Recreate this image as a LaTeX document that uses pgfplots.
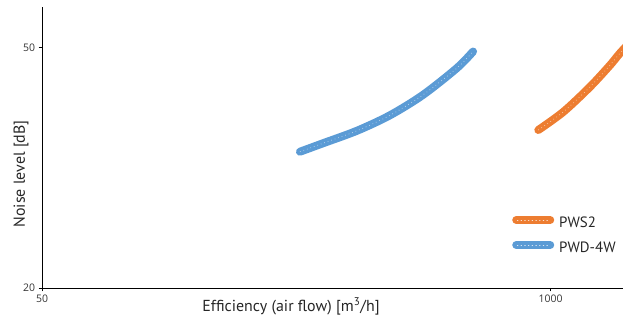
\documentclass[border=0pt]{standalone}
\usepackage{pgfplots}
\pgfplotsset{compat=1.18}
\usepackage{fontspec}
\setmainfont{PT Sans}
\newfontfamily\tickfont{Open Sans}
\definecolor{cblue}{HTML}{5B9BD5}
\definecolor{corange}{HTML}{ED7D31}
\begin{document}
\begin{tikzpicture}
\begin{axis}[
  name=ax,
  scale only axis,
  width=581bp, height=281bp,
  xmode=log, ymode=log,
  xmin=50, xmax=1531, ymin=20, ymax=58.3,
  axis lines=left,
  axis line style={-, line width=0.8pt, black},
  xtick={50,1000}, xticklabels={50,1000},
  ytick={20,50}, yticklabels={20,50},
  minor tick num=0,
  tick style={black, line width=0.5pt},
  major tick length=3.5bp,
  tick align=outside,
  every tick label/.append style={font=\tickfont\fontsize{10.5}{12}\selectfont, text=black!80},
  xlabel={Efficiency (air flow) [m\textsuperscript{3}/h]},
  ylabel={Noise level [dB]},
  label style={font=\fontsize{16}{18}\selectfont, text=black!85},
  xlabel style={at={(axis description cs:0.4286,-0.0854)}, anchor=base},
  ylabel style={at={(axis description cs:-0.0293,0.406)}, anchor=base, rotate=0},
  clip=true,
  legend style={at={(axis description cs:0.809,0.257)}, anchor=north west, draw=none, fill=none,
    font=\fontsize{15}{17}\selectfont, text=black!85, inner sep=0pt,
    nodes={inner sep=1bp, text height=11bp, text depth=3bp},
    row sep=9bp, column sep=4bp},
  legend cell align=left,
  legend image code/.code={\draw[line width=8bp, line cap=round, #1] (0bp,4bp) -- (34bp,4bp);
    \draw[white, line width=0.7bp, dash pattern=on 0.7bp off 3bp, opacity=0.75] (1bp,4bp) -- (33bp,4bp);},
]
\addplot[corange, line width=8bp, line cap=round, smooth] coordinates {
 (929.6,36.5) (1077,39.1) (1260,43.0) (1418,46.7) (1504,48.9) (1643,52.0)
};
\addlegendentry{PWS2}
\addplot[cblue, line width=8bp, line cap=round, smooth] coordinates {
 (228.4,33.6) (261.6,34.7) (319.7,36.4) (388,38.6) (471,41.7) (575.6,46.2) (633,49.2)
};
\addlegendentry{PWD-4W}
\addplot[white, line width=0.7bp, dash pattern=on 0.7bp off 3bp, opacity=0.6, smooth, forget plot] coordinates {
 (929.6,36.5) (1077,39.1) (1260,43.0) (1418,46.7) (1504,48.9) (1643,52.0)
};
\addplot[white, line width=0.7bp, dash pattern=on 0.7bp off 3bp, opacity=0.6, smooth, forget plot] coordinates {
 (228.4,33.6) (261.6,34.7) (319.7,36.4) (388,38.6) (471,41.7) (575.6,46.2) (633,49.2)
};
\end{axis}
\pgfresetboundingbox
\useasboundingbox ([xshift=-42bp,yshift=-30bp]ax.south west) rectangle ([yshift=7bp]ax.north east);
\end{tikzpicture}
\end{document}
